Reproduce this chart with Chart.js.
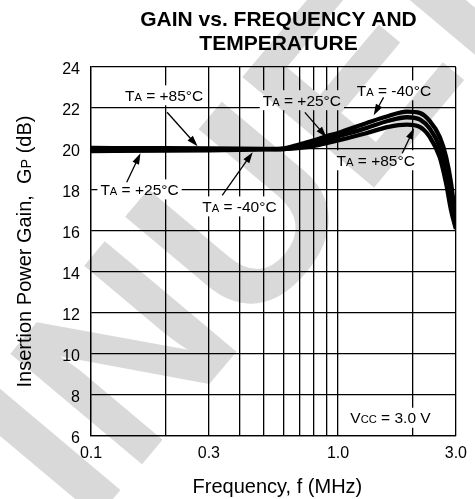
<!DOCTYPE html>
<html>
<head>
<meta charset="utf-8">
<script src="https://cdn.jsdelivr.net/npm/chart.js@4.4.1/dist/chart.umd.min.js"></script>
<style>
  html, body { margin: 0; padding: 0; background: #fff; }
  canvas { display: block; }
</style>
</head>
<body>
<canvas id="gainChart" width="475" height="499"></canvas>
<script>
// frequency points (MHz) shared by all three temperature curves
const freqMHz = [0.1, 0.2, 0.3, 0.4, 0.5, 0.6, 0.7, 0.8, 0.9, 1.0, 1.3, 1.6, 1.9, 2.15, 2.35, 2.58, 2.74, 2.87, 3.0];

// insertion power gain (dB)
const gainMinus40 = [19.95, 19.96, 19.97, 19.98, 19.99, 20.02, 20.23, 20.42, 20.63, 20.78, 21.26, 21.61, 21.82, 21.75, 21.37, 20.59, 19.6, 18.31, 16.4];
const gainPlus25 = [19.9, 19.92, 19.94, 19.96, 19.98, 20.0, 20.12, 20.3, 20.46, 20.62, 21.02, 21.38, 21.55, 21.43, 21.0, 20.1, 18.96, 17.5, 16.2];
const gainPlus85 = [20.05, 20.04, 20.03, 20.02, 20.01, 20.0, 20.05, 20.15, 20.29, 20.42, 20.77, 21.08, 21.19, 21.07, 20.59, 19.6, 18.31, 17.0, 16.1];

// log grid lines and the ones that carry a label
const gridFreqs = [0.1, 0.2, 0.3, 0.4, 0.5, 0.6, 0.7, 0.8, 0.9, 1, 2, 3];
const xTickValues = [0.1, 0.3, 1, 3];
const xTickLabels = ["0.1", "0.3", "1.0", "3.0"];

const FONT = '"Liberation Sans", Arial, Helvetica, sans-serif';

// callouts: text position and arrow (tail -> head), all in data units (MHz, dB)
const callouts = [
  { temp: "+85°C", at: [0.1977, 22.62], from: [0.2032, 21.79], to: [0.270, 20.13] },
  { temp: "+25°C", at: [0.1572, 18.03], from: [0.1395, 18.38], to: [0.1586, 19.79] },
  { temp: "-40°C", at: [0.399, 17.2], from: [0.3398, 17.74], to: [0.4515, 19.84] },
  { temp: "+25°C", at: [0.714, 22.38], from: [0.734, 21.79], to: [0.898, 20.57] },
  { temp: "-40°C", at: [1.684, 22.86], from: [1.529, 22.52], to: [1.395, 21.65] },
  { temp: "+85°C", at: [1.421, 19.45], from: [1.820, 19.79], to: [2.032, 21.01] },
];

function toPoints(ys) {
  return freqMHz.map((f, i) => ({ x: f, y: ys[i] }));
}

// text with small-size letters (T_A, V_CC, G_P)
function runsWidth(ctx, runs, size) {
  let w = 0;
  runs.forEach(r => {
    ctx.font = (r.small ? size * 0.72 : size) + "px " + FONT;
    w += ctx.measureText(r.t).width;
  });
  return w;
}

function drawRuns(ctx, x, y, runs, size) {
  let cx = x;
  runs.forEach(r => {
    ctx.font = (r.small ? size * 0.72 : size) + "px " + FONT;
    ctx.fillText(r.t, cx, y);
    cx += ctx.measureText(r.t).width;
  });
}

function arrow(ctx, x1, y1, x2, y2) {
  const a = Math.atan2(y2 - y1, x2 - x1);
  const len = 11, half = 3.6;
  ctx.beginPath();
  ctx.moveTo(x1, y1);
  ctx.lineTo(x2 - Math.cos(a) * len * 0.8, y2 - Math.sin(a) * len * 0.8);
  ctx.lineWidth = 1.3;
  ctx.stroke();
  ctx.beginPath();
  ctx.moveTo(x2, y2);
  ctx.lineTo(x2 - Math.cos(a) * len - Math.sin(a) * half, y2 - Math.sin(a) * len + Math.cos(a) * half);
  ctx.lineTo(x2 - Math.cos(a) * len + Math.sin(a) * half, y2 - Math.sin(a) * len - Math.cos(a) * half);
  ctx.closePath();
  ctx.fill();
}

const pageBackground = {
  id: "pageBackground",
  beforeDraw(chart) {
    const ctx = chart.ctx;
    ctx.save();
    ctx.fillStyle = "#fff";
    ctx.fillRect(0, 0, chart.width, chart.height);
    ctx.restore();
  }
};

const labels = {
  id: "labels",
  beforeDatasetsDraw(chart) {
    const ctx = chart.ctx;
    const xs = chart.scales.x, ys = chart.scales.y;
    const size = 15.5;
    ctx.save();
    ctx.fillStyle = "#000";
    ctx.strokeStyle = "#000";
    ctx.textBaseline = "alphabetic";

    callouts.forEach(c => {
      const runs = [{ t: "T" }, { t: "A", small: true }, { t: " = " + c.temp }];
      const w = runsWidth(ctx, runs, size);
      const cx = xs.getPixelForValue(c.at[0]);
      const cy = ys.getPixelForValue(c.at[1]);
      ctx.fillStyle = "#fff";
      ctx.fillRect(cx - w / 2 - 3, cy - 10, w + 6, 20);
      ctx.fillStyle = "#000";
      drawRuns(ctx, cx - w / 2, cy + 5.5, runs, size);
      arrow(ctx,
        xs.getPixelForValue(c.from[0]), ys.getPixelForValue(c.from[1]),
        xs.getPixelForValue(c.to[0]), ys.getPixelForValue(c.to[1]));
    });

    // supply voltage note
    const vRuns = [{ t: "V" }, { t: "CC", small: true }, { t: " = 3.0 V" }];
    const vw = runsWidth(ctx, vRuns, size);
    const vx = xs.getPixelForValue(1.631), vy = ys.getPixelForValue(6.89);
    ctx.fillStyle = "#fff";
    ctx.fillRect(vx - vw / 2 - 3, vy - 10, vw + 6, 20);
    ctx.fillStyle = "#000";
    drawRuns(ctx, vx - vw / 2, vy + 5.5, vRuns, size);
    ctx.restore();
  },
  afterDraw(chart) {
    const ctx = chart.ctx;
    const area = chart.chartArea;
    ctx.save();
    ctx.fillStyle = "#000";
    ctx.textAlign = "center";
    ctx.textBaseline = "alphabetic";
    ctx.font = "bold 21px " + FONT;
    const midX = 278.5;
    ctx.fillText("GAIN vs. FREQUENCY AND", midX, 25.5);
    ctx.fillText("TEMPERATURE", midX, 50);

    // x axis title
    ctx.font = "20px " + FONT;
    ctx.fillText("Frequency, f (MHz)", (area.left + area.right) / 2 + 4, 493);

    // y axis title, rotated
    const runs = [{ t: "Insertion Power Gain,  G" }, { t: "P", small: true }, { t: " (dB)" }];
    const w = runsWidth(ctx, runs, 20);
    ctx.translate(31, (area.top + area.bottom) / 2);
    ctx.rotate(-Math.PI / 2);
    ctx.textAlign = "left";
    drawRuns(ctx, -w / 2, 0, runs, 20);
    ctx.restore();
  }
};

// light diagonal stamp across the sheet, multiplied over everything
const stamp = {
  id: "stamp",
  afterDraw(chart) {
    const ctx = chart.ctx;
    const size = 250;
    const ang = -50 * Math.PI / 180;
    ctx.save();
    ctx.globalCompositeOperation = "multiply";
    ctx.fillStyle = "#d9d9d9";
    ctx.font = "bold " + size + "px " + FONT;
    ctx.textAlign = "left";
    ctx.textBaseline = "alphabetic";
    const pre = ctx.measureText("DISCONTI").width + 0.073 * size;
    const rx = Math.cos(ang), ry = Math.sin(ang);
    ctx.translate(143 - pre * rx, 463 - pre * ry);
    ctx.rotate(ang);
    ctx.fillText("DISCONTINUED", 0, 0);
    ctx.restore();
  }
};

const lineStyle = {
  borderColor: "#000",
  borderWidth: 4.3,
  pointRadius: 0,
  fill: false,
  cubicInterpolationMode: "monotone",
};

new Chart(document.getElementById("gainChart"), {
  type: "line",
  data: {
    datasets: [
      { label: "TA = +85°C", data: toPoints(gainPlus85), ...lineStyle },
      { label: "TA = +25°C", data: toPoints(gainPlus25), ...lineStyle },
      { label: "TA = -40°C", data: toPoints(gainMinus40), ...lineStyle },
    ],
  },
  options: {
    responsive: false,
    animation: false,
    devicePixelRatio: 1,
    layout: { padding: { top: 67, right: 13, left: 0, bottom: 0 } },
    plugins: {
      legend: { display: false },
      title: { display: false },
      tooltip: { enabled: false },
    },
    scales: {
      x: {
        type: "logarithmic",
        min: 0.1,
        max: 3,
        afterBuildTicks: (scale) => {
          scale.ticks = gridFreqs.map(v => ({ value: v }));
        },
        afterFit: (scale) => { scale.height = 63; },
        ticks: {
          autoSkip: false,
          maxRotation: 0,
          padding: 8,
          color: "#000",
          font: { family: FONT, size: 16 },
          callback: (value) => {
            const i = xTickValues.findIndex(v => Math.abs(v - value) < 1e-9);
            return i >= 0 ? xTickLabels[i] : "";
          },
        },
        grid: { color: "#000", lineWidth: 1.3, drawTicks: false },
        border: { color: "#000", width: 1.3 },
      },
      y: {
        min: 6,
        max: 24,
        afterFit: (scale) => { scale.width = 91; },
        ticks: {
          stepSize: 2,
          padding: 11,
          labelOffset: 3,
          color: "#000",
          font: { family: FONT, size: 16 },
        },
        grid: { color: "#000", lineWidth: 1.3, drawTicks: false },
        border: { color: "#000", width: 1.3 },
      },
    },
  },
  plugins: [pageBackground, labels, stamp],
});
</script>
</body>
</html>
